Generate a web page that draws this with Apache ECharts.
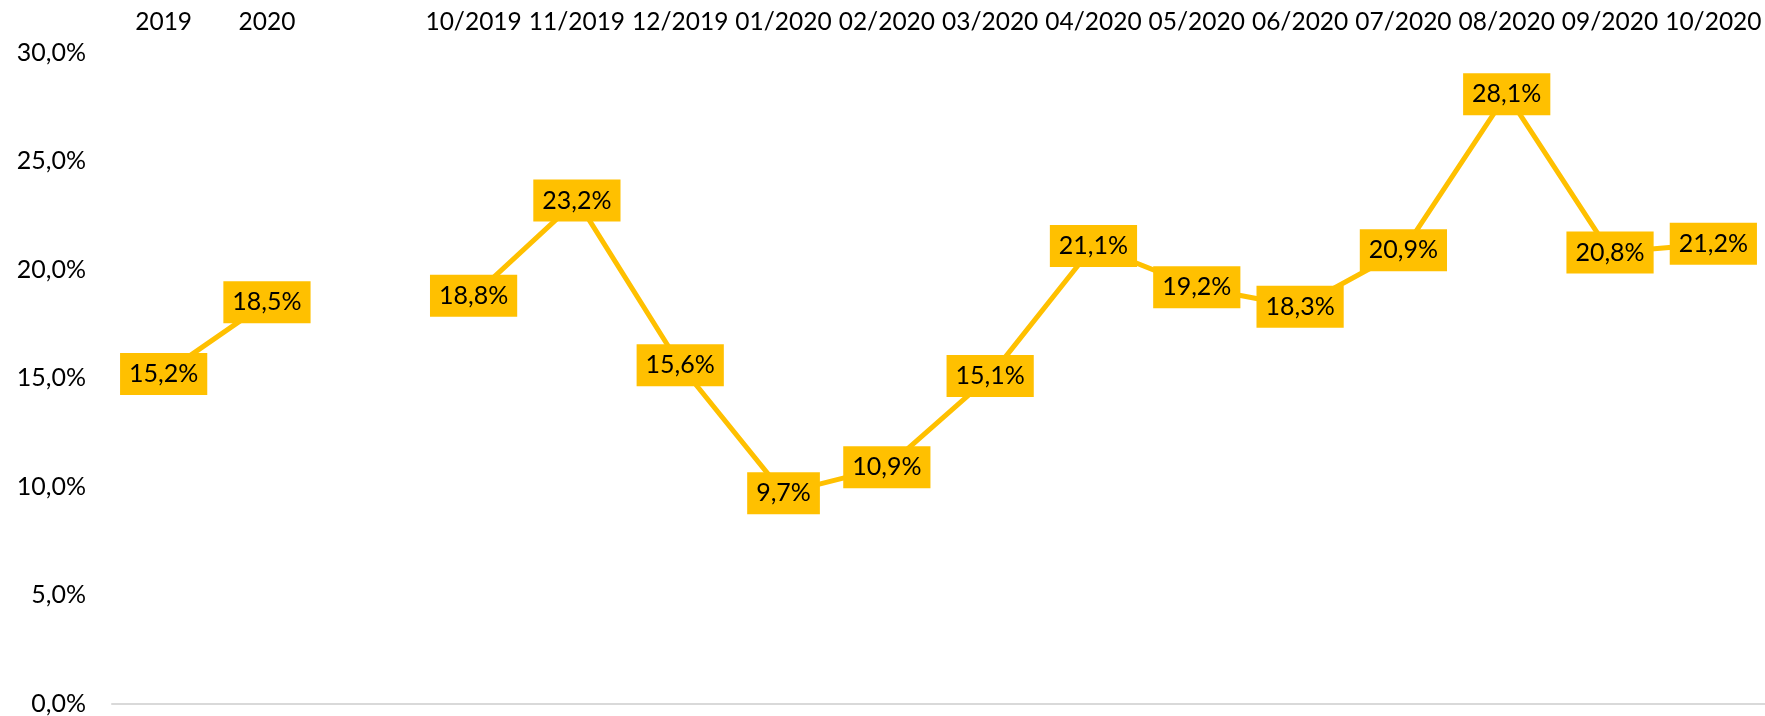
<!DOCTYPE html>
<html>
<head>
<meta charset="utf-8">
<script src="https://cdn.jsdelivr.net/npm/echarts@6/dist/echarts.min.js"></script>
<style>
html,body{margin:0;padding:0;background:#fff;}
#chart{width:1765px;height:716px;}
</style>
</head>
<body>
<div id="chart"></div>
<script>
const categories = ['2019','2020','','10/2019','11/2019','12/2019','01/2020','02/2020','03/2020','04/2020','05/2020','06/2020','07/2020','08/2020','09/2020','10/2020'];
const values = [15.2, 18.5, null, 18.8, 23.2, 15.6, 9.7, 10.9, 15.1, 21.1, 19.2, 18.3, 20.9, 28.1, 20.8, 21.2];
const yTicks = [0, 5, 10, 15, 20, 25, 30];

const fmt = v => v.toFixed(1).replace('.', ',') + '%';
const FONT = 'Lato';
const chart = echarts.init(document.getElementById('chart'));
chart.setOption({
  animation: false,
  backgroundColor: '#ffffff',
  grid: { left: 112, right: 0, top: 53, bottom: 12, containLabel: false },
  xAxis: [{
    type: 'category',
    data: categories,
    position: 'top',
    boundaryGap: true,
    axisLine: { show: false },
    axisTick: { show: false },
    axisLabel: { color: '#000', fontFamily: FONT, fontSize: 24.5, margin: 18, interval: 0 }
  }, {
    type: 'category',
    data: categories,
    position: 'bottom',
    boundaryGap: true,
    axisLine: { show: true, lineStyle: { color: '#d9d9d9', width: 2 } },
    axisTick: { show: false },
    axisLabel: { show: false }
  }],
  yAxis: {
    type: 'value',
    min: yTicks[0],
    max: yTicks[yTicks.length - 1],
    interval: 5,
    axisLine: { show: false },
    axisTick: { show: false },
    splitLine: { show: false },
    axisLabel: { color: '#000', fontFamily: FONT, fontSize: 25, margin: 26, formatter: v => fmt(v) }
  },
  series: [{
    type: 'line',
    data: values,
    connectNulls: false,
    symbol: 'circle',
    symbolSize: 1,
    itemStyle: { color: '#FFC000', opacity: 0 },
    lineStyle: { color: '#FFC000', width: 5 },
    label: {
      show: true,
      position: 'inside',
      formatter: p => fmt(p.value),
      color: '#000',
      fontFamily: FONT,
      fontSize: 25,
      backgroundColor: '#FFC000',
      padding: [9, 9, 8, 9],
      opacity: 1
    },
    emphasis: { disabled: true }
  }]
});
</script>
</body>
</html>
